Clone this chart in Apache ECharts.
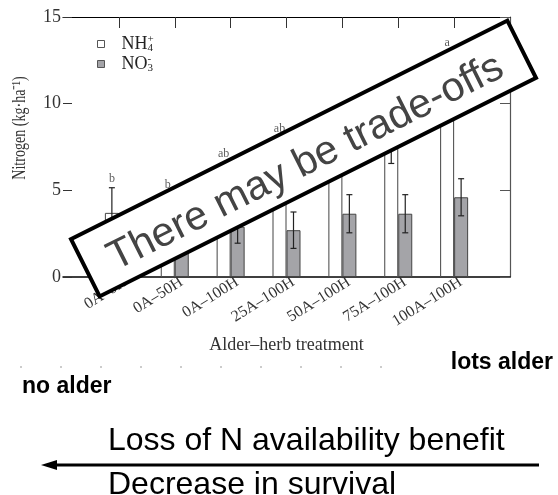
<!DOCTYPE html>
<html>
<head>
<meta charset="utf-8">
<script src="https://cdn.jsdelivr.net/npm/echarts@6/dist/echarts.min.js"></script>
<style>
  html, body { margin: 0; padding: 0; background: #fff; }
  #chart { width: 558px; height: 495px; }
</style>
</head>
<body>
<div id="chart"></div>
<script>
// Alder–herb treatments and soil nitrogen (kg·ha⁻¹)
const categories = ['0A–0H', '0A–50H', '0A–100H', '25A–100H', '50A–100H', '75A–100H', '100A–100H'];
const nh4 = [3.7, 3.4, 5.0, 6.3, 7.5, 8.1, 11.0];
const nh4Err = [1.45, 1.4, 1.6, 1.7, 1.5, 1.55, 2.0];
const no3 = [2.2, 2.3, 2.9, 2.7, 3.65, 3.65, 4.6];
const no3Err = [0.8, 0.8, 0.95, 1.05, 1.1, 1.1, 1.07];
const letters = ['b', 'b', 'ab', 'ab', 'a', 'a', 'a'];
const yMin = 0, yMax = 15, yStep = 5;

const SERIF = '"Liberation Serif", "Times New Roman", serif';
const SANS = '"Liberation Sans", Arial, sans-serif';
const BAR_W = 14;

// pad the axis with an empty slot at each end so groups sit on inner ticks
const axisCats = [''].concat(categories, ['']);
const slot = i => i + 1;

function errorBars(name, vals, errs, offset) {
  return {
    type: 'custom',
    name: name,
    z: 5,
    silent: true,
    data: vals.map((v, i) => [slot(i), v - errs[i], v + errs[i]]),
    encode: { x: 0, y: [1, 2] },
    renderItem(params, api) {
      const cx = api.coord([api.value(0), 0])[0] + offset;
      const lo = api.coord([api.value(0), api.value(1)])[1];
      const hi = api.coord([api.value(0), api.value(2)])[1];
      const cap = 3;
      const style = { stroke: '#222', lineWidth: 1.2, fill: null };
      return {
        type: 'group',
        children: [
          { type: 'line', shape: { x1: cx, y1: lo, x2: cx, y2: hi }, style },
          { type: 'line', shape: { x1: cx - cap, y1: lo, x2: cx + cap, y2: lo }, style },
          { type: 'line', shape: { x1: cx - cap, y1: hi, x2: cx + cap, y2: hi }, style }
        ]
      };
    }
  };
}

const legendRich = {
  gap: { width: 12 },
  b: { fontFamily: SERIF, fontSize: 18, color: '#222', lineHeight: 20 },
  sub: { fontFamily: SERIF, fontSize: 11, color: '#222', verticalAlign: 'bottom', lineHeight: 11, width: 0 },
  sup: { fontFamily: SERIF, fontSize: 11, color: '#222', verticalAlign: 'top', lineHeight: 11 }
};

const chart = echarts.init(document.getElementById('chart'), null, { renderer: 'canvas' });

chart.setOption({
  animation: false,
  backgroundColor: '#fff',
  grid: { left: 63, right: 48, top: 17, bottom: 218 },
  legend: {
    left: 97,
    top: 34,
    padding: 0,
    orient: 'vertical',
    icon: 'rect',
    itemWidth: 7,
    itemHeight: 7,
    itemGap: 0,
    data: ['NH4+', 'NO3-'],
    itemStyle: { borderWidth: 1, borderColor: '#555' },
    formatter(name) {
      return name === 'NH4+' ? '{gap|}{b|NH}{sub|4}{sup|+}' : '{gap|}{b|NO}{sub|3}{sup|-}';
    },
    textStyle: { rich: legendRich, lineHeight: 20 }
  },
  xAxis: [
    {
      type: 'category',
      position: 'bottom',
      data: axisCats,
      boundaryGap: false,
      axisLine: { onZero: false, lineStyle: { color: '#000', width: 1.5 } },
      axisTick: { show: false },
      axisLabel: {
        interval: 0,
        rotate: 32,
        margin: 8,
        padding: [0, -8, 0, 0],
        fontFamily: SERIF,
        fontSize: 16,
        color: '#333'
      },
      name: 'Alder–herb treatment',
      nameLocation: 'middle',
      nameGap: 56,
      nameTextStyle: { fontFamily: SERIF, fontSize: 18, color: '#333' }
    },
    {
      type: 'category',
      position: 'top',
      data: axisCats,
      boundaryGap: false,
      axisLine: { onZero: false, lineStyle: { color: '#000', width: 1.2 } },
      axisTick: {
        show: true,
        inside: true,
        length: 11,
        interval: (idx) => idx > 0 && idx < axisCats.length - 1,
        lineStyle: { color: '#333' }
      },
      axisLabel: { show: false }
    }
  ],
  yAxis: [
    {
      type: 'value',
      position: 'left',
      min: yMin,
      max: yMax,
      interval: yStep,
      axisLine: { show: false },
      axisTick: { show: true, inside: true, length: 9, lineStyle: { color: '#333' } },
      splitLine: { show: false },
      axisLabel: { margin: 2, fontFamily: SERIF, fontSize: 18, color: '#333' }
    },
    {
      type: 'value',
      position: 'right',
      min: yMin,
      max: yMax,
      interval: yStep,
      axisLine: { show: true, lineStyle: { color: '#555', width: 1.2 } },
      axisTick: { show: true, inside: true, length: 10, lineStyle: { color: '#555' } },
      splitLine: { show: false },
      axisLabel: { show: false }
    }
  ],
  series: [
    {
      name: 'NH4+',
      type: 'bar',
      barWidth: BAR_W,
      barGap: '0%',
      data: nh4.map((v, i) => [slot(i), v]),
      itemStyle: { color: '#fff', borderColor: '#444', borderWidth: 1 }
    },
    {
      name: 'NO3-',
      type: 'bar',
      barWidth: BAR_W,
      barGap: '0%',
      data: no3.map((v, i) => [slot(i), v]),
      itemStyle: { color: '#a4a4a8', borderColor: '#444', borderWidth: 1 }
    },
    errorBars('NH4+ error', nh4, nh4Err, -BAR_W / 2),
    errorBars('NO3- error', no3, no3Err, BAR_W / 2),
    {
      // significance letters above the NH4+ error bars
      name: 'letters',
      type: 'scatter',
      symbolSize: 0,
      silent: true,
      z: 6,
      data: nh4.map((v, i) => [slot(i), v + nh4Err[i]]),
      label: {
        show: true,
        position: 'top',
        distance: 3,
        offset: [-BAR_W / 2, 0],
        formatter: p => letters[p.dataIndex],
        fontFamily: SERIF,
        fontSize: 12,
        color: '#333'
      }
    }
  ],
  graphic: [
    {
      type: 'text',
      x: 20,
      y: 128,
      rotation: Math.PI / 2,
      scaleX: 0.74,
      z: 10,
      style: {
        text: 'Nitrogen (kg·ha⁻¹)',
        font: '19px ' + SERIF,
        fill: '#333',
        textAlign: 'center',
        textVerticalAlign: 'middle',
        align: 'center',
        verticalAlign: 'middle'
      }
    },
    {
      type: 'group',
      x: 303.5,
      y: 158.5,
      rotation: 26.6 * Math.PI / 180,
      z: 100,
      children: [
        {
          type: 'rect',
          z: 100,
          shape: { x: -244, y: -32, width: 488, height: 64 },
          style: { fill: '#fff', stroke: '#000', lineWidth: 4 }
        },
        {
          type: 'text',
          z: 101,
          style: {
            text: 'There may be trade-offs',
            x: 0,
            y: 5,
            font: '41px ' + SANS,
            fill: '#444',
            textAlign: 'center',
            textVerticalAlign: 'middle',
            align: 'center',
            verticalAlign: 'middle'
          }
        }
      ]
    },
    {
      type: 'line',
      z: 10,
      shape: { x1: 20, y1: 367, x2: 415, y2: 367 },
      style: { stroke: '#999', lineWidth: 1, lineDash: [2, 38] }
    },
    {
      type: 'text',
      z: 10,
      style: {
        text: 'lots alder', x: 553, y: 363,
        font: 'bold 23px ' + SANS, fill: '#000',
        textAlign: 'right', textVerticalAlign: 'middle', align: 'right', verticalAlign: 'middle'
      }
    },
    {
      type: 'text',
      z: 10,
      style: {
        text: 'no alder', x: 22, y: 387,
        font: 'bold 23px ' + SANS, fill: '#000',
        textAlign: 'left', textVerticalAlign: 'middle', align: 'left', verticalAlign: 'middle'
      }
    },
    {
      type: 'text',
      z: 10,
      style: {
        text: 'Loss of N availability benefit', x: 108, y: 441,
        font: '32px ' + SANS, fill: '#000',
        textAlign: 'left', textVerticalAlign: 'middle', align: 'left', verticalAlign: 'middle'
      }
    },
    {
      type: 'line',
      z: 10,
      shape: { x1: 539, y1: 465, x2: 50, y2: 465 },
      style: { stroke: '#000', lineWidth: 3 }
    },
    {
      type: 'polygon',
      z: 10,
      shape: { points: [[41, 465], [57, 460], [57, 470]] },
      style: { fill: '#000' }
    },
    {
      type: 'text',
      z: 10,
      style: {
        text: 'Decrease in survival', x: 108, y: 485,
        font: '32px ' + SANS, fill: '#000',
        textAlign: 'left', textVerticalAlign: 'middle', align: 'left', verticalAlign: 'middle'
      }
    }
  ]
});
</script>
</body>
</html>
